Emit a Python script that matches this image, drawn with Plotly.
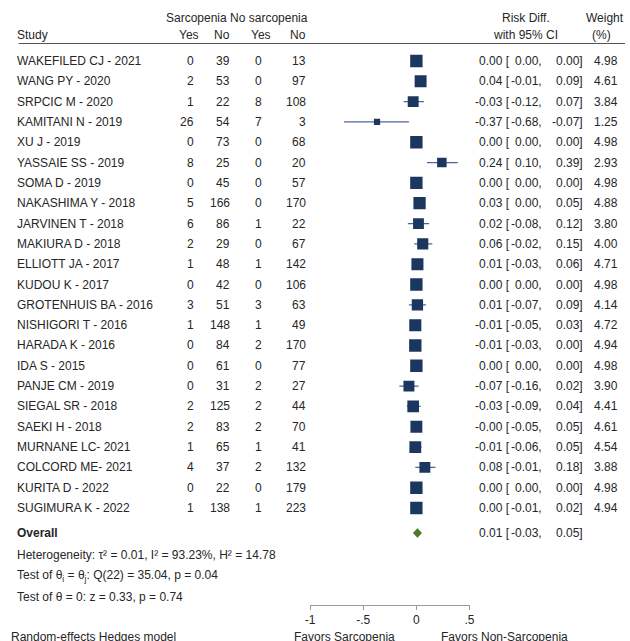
import plotly.graph_objects as go

# ---- study-level data ----
studies = [
    "WAKEFILED CJ - 2021", "WANG PY - 2020", "SRPCIC M - 2020", "KAMITANI N - 2019",
    "XU J - 2019", "YASSAIE SS - 2019", "SOMA D - 2019", "NAKASHIMA Y - 2018",
    "JARVINEN T - 2018", "MAKIURA D - 2018", "ELLIOTT JA - 2017", "KUDOU K - 2017",
    "GROTENHUIS BA - 2016", "NISHIGORI T - 2016", "HARADA K - 2016", "IDA S - 2015",
    "PANJE CM - 2019", "SIEGAL SR - 2018", "SAEKI H - 2018", "MURNANE LC- 2021",
    "COLCORD ME- 2021", "KURITA D - 2022", "SUGIMURA K - 2022",
]
sarc_yes = [0, 2, 1, 26, 0, 8, 0, 5, 6, 2, 1, 0, 3, 1, 0, 0, 0, 2, 2, 1, 4, 0, 1]
sarc_no = [39, 53, 22, 54, 73, 25, 45, 166, 86, 29, 48, 42, 51, 148, 84, 61, 31, 125, 83, 65, 37, 22, 138]
nosarc_yes = [0, 0, 8, 7, 0, 0, 0, 0, 1, 0, 1, 0, 3, 1, 2, 0, 2, 2, 2, 1, 2, 0, 1]
nosarc_no = [13, 97, 108, 3, 68, 20, 57, 170, 22, 67, 142, 106, 63, 49, 170, 77, 27, 44, 70, 41, 132, 179, 223]
risk_diff = [0.00, 0.04, -0.03, -0.37, 0.00, 0.24, 0.00, 0.03, 0.02, 0.06, 0.01, 0.00,
             0.01, -0.01, -0.01, 0.00, -0.07, -0.03, -0.00, -0.01, 0.08, 0.00, 0.00]
ci_low = [0.00, -0.01, -0.12, -0.68, 0.00, 0.10, 0.00, 0.00, -0.08, -0.02, -0.03, 0.00,
          -0.07, -0.05, -0.03, 0.00, -0.16, -0.09, -0.05, -0.06, -0.01, 0.00, -0.01]
ci_high = [0.00, 0.09, 0.07, -0.07, 0.00, 0.39, 0.00, 0.05, 0.12, 0.15, 0.06, 0.00,
           0.09, 0.03, 0.00, 0.00, 0.02, 0.04, 0.05, 0.05, 0.18, 0.00, 0.02]
weight = [4.98, 4.61, 3.84, 1.25, 4.98, 2.93, 4.98, 4.88, 3.80, 4.00, 4.71, 4.98,
          4.14, 4.72, 4.94, 4.98, 3.90, 4.41, 4.61, 4.54, 3.88, 4.98, 4.94]

# ---- pooled estimate ----
overall_rd = 0.01
overall_low = -0.03
overall_high = 0.05

tick_vals = [-1, -0.5, 0, 0.5]
tick_text = ["-1", "-.5", "0", ".5"]

# ---- layout constants (pixels) ----
W, H = 630, 641
ROW0_PX, ROW_STEP = 61.0, 20.32
FONT = "Liberation Sans, Arial, Helvetica, sans-serif"
TXT = "#262626"
NAVY = "#1b365f"
CI_COL = "#4f6596"
GREEN = "#4c7a2c"
AXIS_COL = "#9a9a9a"
LEFT_NUDGE, RIGHT_NUDGE = -4, 4


def row(py):
    """Pixel y -> row coordinate on the y axis."""
    return (py - ROW0_PX) / ROW_STEP


def px(x):
    return x / W


fig = go.Figure()

# confidence interval whiskers
cx, cy = [], []
for i, (lo, hi) in enumerate(zip(ci_low, ci_high)):
    cx += [lo, hi, None]
    cy += [i, i, None]
fig.add_trace(go.Scatter(x=cx, y=cy, mode="lines",
                         line=dict(color=CI_COL, width=1.3),
                         hoverinfo="skip", showlegend=False))

# study squares, area proportional to weight
fig.add_trace(go.Scatter(
    x=risk_diff, y=list(range(len(studies))), mode="markers",
    marker=dict(symbol="square", color=NAVY, opacity=1,
                size=[5.55 * w ** 0.5 for w in weight],
                line=dict(width=0)),
    showlegend=False,
))

# pooled diamond
oy = row(533)
dh = 4.6 / ROW_STEP
fig.add_trace(go.Scatter(
    x=[overall_low, overall_rd, overall_high, overall_rd, overall_low],
    y=[oy, oy - dh, oy, oy + dh, oy],
    mode="lines", fill="toself", fillcolor=GREEN,
    line=dict(color=GREEN, width=0.5), showlegend=False,
))

ann = []


def text(x, y, s, anchor="left", size=12, color=TXT):
    if anchor == "left":
        x += LEFT_NUDGE
    elif anchor == "right":
        x += RIGHT_NUDGE
    ann.append(dict(x=px(x), y=y, xref="paper", yref="y", text=s,
                    xanchor=anchor, yanchor="middle", showarrow=False,
                    borderpad=0, borderwidth=0,
                    font=dict(family=FONT, size=size, color=color)))


def ci_text(y, est, lo, hi):
    text(509, y, f"{est:.2f} [", "right")
    text(542, y, f"{lo:.2f},", "right")
    text(583, y, f"{hi:.2f}]", "right")


# header
h1, h2 = row(18), row(35)
text(168, h1, "Sarcopenia No sarcopenia")
text(16, h2, "Study")
text(193, h2, "Yes", "right")
text(225, h2, "No", "right")
text(266, h2, "Yes", "right")
text(302, h2, "No", "right")
text(529, h1, "Risk Diff.", "center")
text(529, h2, "with 95% CI", "center")
text(610, h1, "Weight", "center")
text(606, h2, "(%)", "center")

# study rows
for i, name in enumerate(studies):
    text(16, i, name)
    text(188, i, str(sarc_yes[i]), "right")
    text(225, i, str(sarc_no[i]), "right")
    text(257, i, str(nosarc_yes[i]), "right")
    text(302, i, str(nosarc_no[i]), "right")
    ci_text(i, risk_diff[i], ci_low[i], ci_high[i])
    text(619, i, f"{weight[i]:.2f}", "right")

# overall row
text(16, oy, "<b>Overall</b>")
ci_text(oy, overall_rd, overall_low, overall_high)

text(16, row(555), "Heterogeneity: τ² = 0.01, I² = 93.23%, H² = 14.78")
text(16, row(576), "Test of θ<sub>i</sub> = θ<sub>j</sub>: Q(22) = 35.04, p = 0.04")
text(16, row(597), "Test of θ = 0: z = 0.33, p = 0.74")

# footer
text(10, row(637), "Random-effects Hedges model")
text(345, row(637), "Favors Sarcopenia", "center")
text(508, row(637), "Favors Non-Sarcopenia", "center")

fig.update_layout(
    width=W, height=H,
    margin=dict(l=0, r=0, t=0, b=0),
    paper_bgcolor="white", plot_bgcolor="rgba(0,0,0,0)",
    annotations=ann,
    shapes=[dict(type="line", xref="paper", yref="y",
                 x0=px(14), x1=1, y0=row(43.5), y1=row(43.5),
                 line=dict(color="#555555", width=1.2))],
    xaxis=dict(domain=[px(310), px(472)], range=[-1, 0.5],
               anchor="free", position=1 - 605 / H,
               showline=True, linecolor=AXIS_COL, linewidth=1,
               ticks="outside", ticklen=4, tickcolor=AXIS_COL, tickwidth=1,
               tickvals=tick_vals, ticktext=tick_text,
               tickfont=dict(family=FONT, size=12, color=TXT),
               showgrid=False, zeroline=False, fixedrange=True),
    yaxis=dict(domain=[0, 1], range=[row(H), row(0)], visible=False,
               fixedrange=True),
    showlegend=False,
)

fig.write_html("out.html")
